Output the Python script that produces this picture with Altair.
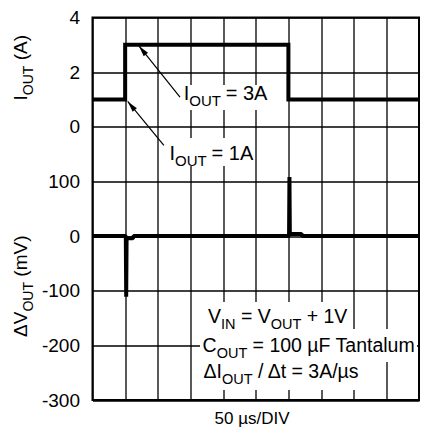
import altair as alt
import pandas as pd

# ---------------- data ----------------
# time axis: 50 us / division, 10 divisions
x_grid_us = [0, 50, 100, 150, 200, 250, 300, 350, 400, 450, 500]

# I_OUT trace (A)
iout_time_us = [0, 50, 50, 300, 300, 500]
iout_amps = [1, 1, 3, 3, 1, 1]

# Delta V_OUT trace (mV)
dv_time_us = [0, 51, 51.6, 52.2, 62, 63, 301, 301.6, 302.2, 320, 321, 500]
dv_mv = [0, 0, -111, -4, -4, 0, 0, 108, 4, 4, 0, 0]

# common vertical axis in screen divisions (7 divisions):
#   upper trace  div = I/2 + 2      lower trace  div = mV/100
y_tick_divs = [4, 3, 2, 1, 0, -1, -2, -3]
y_tick_labels = ["4", "2", "0", "100", "0", "-100", "-200", "-300"]

# annotation texts (segments: text, x [us], y [div], font size)
ann_text = ["I", "OUT", "= 3A",
            "I", "OUT", "= 1A",
            "V", "IN", "= V", "OUT", "+ 1V",
            "C", "OUT", "= 100 µF Tantalum",
            "ΔI", "OUT", "/ Δt = 3A/µs",
            "50 µs/DIV"]
ann_x = [139.7, 148.1, 203.9,
         118.1, 126.5, 182.3,
         176.9, 196.8, 227.3, 272.9, 328.0,
         168.5, 190.1, 245.2,
         170.0, 198.2, 253.3,
         244.3]
ann_y = [2.490, 2.380, 2.490,
         1.392, 1.282, 1.392,
         -1.585, -1.695, -1.585, -1.695, -1.585,
         -2.116, -2.226, -2.116,
         -2.603, -2.713, -2.603,
         -3.439]
ann_size = [20, 15, 20,
            20, 15, 20,
            19.5, 14.5, 19.5, 14.5, 19.5,
            19.5, 14.5, 19.5,
            19.5, 14.5, 19.5,
            17]
ann_align = ["left"] * 17 + ["center"]

# rotated axis titles
title_text = ["I", "OUT", "(A)", "ΔV", "OUT", "(mV)"]
title_x = [-100.3, -91.1, -100.3, -100.3, -91.1, -100.3]
title_y = [2.481, 2.578, 3.217, -1.847, -1.382, -0.743]
title_size = [19, 14, 19, 19, 14, 19]

# white boxes behind the annotation texts
box_x1 = [140.0, 116.0, 167.7, 164.6, 164.6]
box_x2 = [268.7, 247.7, 392.8, 497.0, 412.7]
box_y1 = [2.765, 1.795, -1.207, -1.701, -2.305]
box_y2 = [2.307, 1.282, -1.701, -2.305, -2.817]

# arrows (tail -> tip)
arrow_x1 = [134.0, 109.3]
arrow_y1 = [2.545, 1.658]
arrow_x2 = [71.1, 53.9]
arrow_y2 = [3.479, 2.463]
arrow_angle = [321, 320]

# ---------------- chart ----------------
FONT = "Liberation Sans"
W, H = 326.5, 382.5

iout_df = pd.DataFrame({"t": iout_time_us, "v": iout_amps, "i": range(len(iout_amps))})
dv_df = pd.DataFrame({"t": dv_time_us, "v": dv_mv, "i": range(len(dv_mv))})
ann_df = pd.DataFrame({"text": ann_text, "x": ann_x, "y": ann_y, "size": ann_size, "align": ann_align})
title_df = pd.DataFrame({"text": title_text, "x": title_x, "y": title_y, "size": title_size})
box_df = pd.DataFrame({"x1": box_x1, "x2": box_x2, "y1": box_y1, "y2": box_y2})
arrow_df = pd.DataFrame({"x1": arrow_x1, "y1": arrow_y1, "x2": arrow_x2, "y2": arrow_y2,
                         "angle": arrow_angle})

xscale = alt.Scale(domain=[0, 500], nice=False, zero=False)
yscale = alt.Scale(domain=[-3, 4], nice=False, zero=False)

label_expr = " : ".join(
    f"datum.value == {v} ? '{l}'" for v, l in zip(y_tick_divs, y_tick_labels)
) + " : ''"

xaxis = alt.Axis(values=x_grid_us, grid=True, labels=False, ticks=False, domain=False,
                 title=None, gridColor="black", gridWidth=1.3, gridOpacity=1)
yaxis = alt.Axis(values=y_tick_divs, grid=True, ticks=False, domain=False, title=None,
                 labelExpr=label_expr, labelFont=FONT, labelFontSize=19,
                 labelColor="black", labelPadding=13, gridColor="black",
                 gridWidth=1.3, gridOpacity=1)

X = lambda f: alt.X(f, scale=xscale, axis=xaxis)
Y = lambda f: alt.Y(f, scale=yscale, axis=yaxis)

iout_line = alt.Chart(iout_df).transform_calculate(
    d="datum.v / 2 + 2"
).mark_line(color="black", strokeWidth=4, strokeJoin="miter", strokeCap="butt").encode(
    x=X("t:Q"), y=Y("d:Q"), order="i:Q",
)

dv_line = alt.Chart(dv_df).transform_calculate(
    d="datum.v / 100"
).mark_line(color="black", strokeWidth=4, strokeJoin="bevel", strokeCap="butt").encode(
    x=X("t:Q"), y=Y("d:Q"), order="i:Q",
)

boxes = alt.Chart(box_df).mark_rect(color="white").encode(
    x=X("x1:Q"), x2="x2:Q", y=Y("y1:Q"), y2="y2:Q",
)

arrow_lines = alt.Chart(arrow_df).mark_rule(color="black", strokeWidth=1.2).encode(
    x=X("x1:Q"), x2="x2:Q", y=Y("y1:Q"), y2="y2:Q",
)

arrow_heads = alt.Chart(arrow_df).mark_point(
    shape="M0,0L0.5,2L-0.5,2Z", filled=True, color="black", opacity=1, size=121
).encode(
    x=X("x2:Q"), y=Y("y2:Q"), angle=alt.Angle("angle:Q", scale=None),
)

ann_left = alt.Chart(ann_df).transform_filter("datum.align == 'left'").mark_text(
    font=FONT, color="black", align="left", baseline="alphabetic"
).encode(
    x=X("x:Q"), y=Y("y:Q"), text="text:N", size=alt.Size("size:Q", scale=None),
)
ann_center = alt.Chart(ann_df).transform_filter("datum.align == 'center'").mark_text(
    font=FONT, color="black", align="center", baseline="alphabetic"
).encode(
    x=X("x:Q"), y=Y("y:Q"), text="text:N", size=alt.Size("size:Q", scale=None),
)

titles = alt.Chart(title_df).mark_text(
    font=FONT, color="black", align="left", baseline="alphabetic", angle=270
).encode(
    x=X("x:Q"), y=Y("y:Q"), text="text:N", size=alt.Size("size:Q", scale=None),
)

chart = alt.layer(
    iout_line, boxes, dv_line, arrow_lines, arrow_heads, ann_left, ann_center, titles
).properties(
    width=W, height=H,
    padding={"left": 84.5, "top": 9.5, "right": 1, "bottom": 28},
    autosize=alt.AutoSizeParams(type="none"),
    background="white",
).configure_view(
    stroke="black", strokeWidth=2
)

chart.save("out.html", embed_options={"renderer": "svg", "actions": False})
